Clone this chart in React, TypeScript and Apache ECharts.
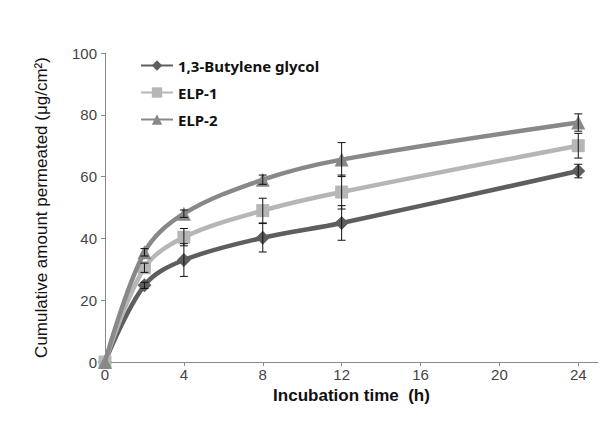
import React, { useEffect, useRef } from "react";
import * as echarts from "echarts";

const times = [0, 2, 4, 8, 12, 24];
const xTicks = [0, 4, 8, 12, 16, 20, 24];
const seriesNames = ["1,3-Butylene glycol", "ELP-1", "ELP-2"];
const butylene = [0, 24.8, 33, 40.2, 45, 61.8];
const butyleneErr = [0, 1, 5.3, 4.6, 5.6, 2.2];
const elp1 = [0, 30.5, 40.4, 49, 55, 70];
const elp1Err = [0, 1.5, 2.8, 4, 5.5, 4];
const elp2 = [0, 35.5, 48, 59, 65.5, 77.5];
const elp2Err = [0, 1.2, 1.2, 1.5, 5.5, 2.8];

const colors = ["#5e5e5e", "#b6b6b6", "#888888"];
const symbols = ["diamond", "rect", "triangle"];
const symbolSizes = [14, 13, 14];

export default function App() {
  const ref = useRef<HTMLDivElement>(null);
  useEffect(() => {
    if (!ref.current) return;
    const chart = echarts.init(ref.current, undefined, { renderer: "svg" });
    const values = [butylene, elp1, elp2];
    const errs = [butyleneErr, elp1Err, elp2Err];
    const lineSeries = values.map((vals, i) => ({
      name: seriesNames[i],
      type: "line",
      smooth: 0.35,
      data: times.map((t, j) => [t, vals[j]]),
      symbol: symbols[i],
      symbolSize: symbolSizes[i],
      lineStyle: { width: 4.5, color: colors[i] },
      itemStyle: { color: colors[i] },
      z: 2 + i,
    }));
    const errSeries = errs.map((e, i) => ({
      name: seriesNames[i] + " err",
      type: "custom",
      z: 10,
      silent: true,
      data: times
        .map((t, j) => [t, values[i][j] - e[j], values[i][j] + e[j]])
        .filter((d, j) => e[j] > 0),
      renderItem: (params: any, api: any) => {
        const x = api.value(0);
        const lo = api.coord([x, api.value(1)]);
        const hi = api.coord([x, api.value(2)]);
        const hw = 4;
        const style = { stroke: "#111", lineWidth: 1 };
        return {
          type: "group",
          children: [
            { type: "line", shape: { x1: lo[0], y1: lo[1], x2: hi[0], y2: hi[1] }, style },
            { type: "line", shape: { x1: lo[0] - hw, y1: lo[1], x2: lo[0] + hw, y2: lo[1] }, style },
            { type: "line", shape: { x1: hi[0] - hw, y1: hi[1], x2: hi[0] + hw, y2: hi[1] }, style },
          ],
        };
      },
    }));
    chart.setOption({
      animation: false,
      backgroundColor: "#ffffff",
      grid: { left: 105, right: 12, top: 53, bottom: 68 },
      legend: {
        data: seriesNames,
        orient: "vertical",
        left: 135,
        top: 53,
        itemWidth: 32,
        itemHeight: 13,
        itemGap: 12,
        textStyle: {
          fontFamily: "'Noto Sans', sans-serif",
          fontWeight: "bold",
          fontSize: 15,
          color: "#111",
        },
      },
      xAxis: {
        type: "value",
        min: 0,
        max: 25,
        name: "Incubation time  (h)",
        nameLocation: "middle",
        nameGap: 15,
        nameTextStyle: {
          fontFamily: "'Liberation Sans', Arial, sans-serif",
          fontWeight: "bold",
          fontSize: 17,
          color: "#111",
        },
        axisLine: { lineStyle: { color: "#8a8a8a" } },
        axisTick: { customValues: xTicks, length: 4, lineStyle: { color: "#8a8a8a" } },
        axisLabel: {
          customValues: xTicks,
          fontFamily: "'Liberation Sans', Arial, sans-serif",
          fontSize: 15,
          color: "#444",
          margin: 5,
        },
        splitLine: { show: false },
      },
      yAxis: {
        type: "value",
        min: 0,
        max: 100,
        interval: 20,
        name: "Cumulative amount permeated (μg/cm²)",
        nameLocation: "middle",
        nameGap: 55,
        nameTextStyle: {
          fontFamily: "'Liberation Sans', Arial, sans-serif",
          fontSize: 17,
          color: "#111",
        },
        axisLine: { show: true, lineStyle: { color: "#8a8a8a" } },
        axisTick: { show: true, length: 4, lineStyle: { color: "#8a8a8a" } },
        axisLabel: {
          fontFamily: "'Liberation Sans', Arial, sans-serif",
          fontSize: 15,
          color: "#444",
          margin: 8,
        },
        splitLine: { show: false },
      },
      series: [...lineSeries, ...errSeries],
    });
    return () => chart.dispose();
  }, []);
  return <div ref={ref} style={{ width: 610, height: 430, position: "absolute", left: 0, top: 0 }} />;
}
